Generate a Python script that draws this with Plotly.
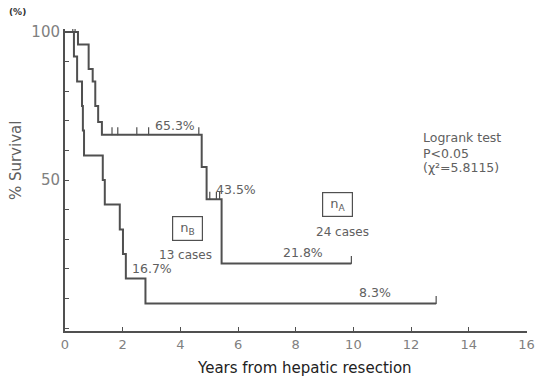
import plotly.graph_objects as go

# Group nA (24 cases) Kaplan-Meier steps
time_a = [0, 0.45, 0.82, 0.96, 1.05, 1.15, 1.28, 4.74, 4.91, 5.43, 9.93]
surv_a = [100, 95.8, 87.5, 83.3, 75.0, 69.6, 65.3, 54.4, 43.5, 21.8, 21.8]
cens_time_a = [0.27, 0.35, 1.63, 1.83, 2.49, 2.90, 4.64, 5.02, 5.25, 5.36, 9.93]
cens_surv_a = [100, 100, 65.3, 65.3, 65.3, 65.3, 65.3, 43.5, 43.5, 43.5, 21.8]

# Group nB (13 cases)
time_b = [0, 0.31, 0.42, 0.59, 0.62, 0.66, 1.31, 1.38, 1.90, 2.01, 2.11, 2.79, 12.87]
surv_b = [100, 91.7, 83.3, 75.0, 66.7, 58.3, 50.0, 41.7, 33.3, 25.0, 16.7, 8.3, 8.3]
cens_time_b = [12.87]
cens_surv_b = [8.3]

x_ticks = [0, 2, 4, 6, 8, 10, 12, 14, 16]
y_ticks = [50, 100]
y_labels = ["50", "100"]
y_minor_step = 10

LINE = "#505050"
TXT = "#606060"
FONT = "DejaVu Sans"

fig = go.Figure()
for t, s in [(time_a, surv_a), (time_b, surv_b)]:
    fig.add_trace(go.Scatter(x=t, y=s, mode="lines", line=dict(shape="hv", color=LINE, width=2),
                             hoverinfo="skip", showlegend=False))
for t, s in [(cens_time_a, cens_surv_a), (cens_time_b, cens_surv_b)]:
    fig.add_trace(go.Scatter(x=t, y=s, mode="markers", marker=dict(size=1, color=LINE),
                             error_y=dict(type="data", symmetric=False, array=[2.5] * len(t),
                                          arrayminus=[0] * len(t), width=0, thickness=1.2, color=LINE),
                             hoverinfo="skip", showlegend=False))

ann = [
    (3.8, 65.3, "65.3%"),
    (5.92, 43.5, "43.5%"),
    (3.0, 17.0, "16.7%"),
    (8.25, 22.2, "21.8%"),
    (10.76, 8.8, "8.3%"),
]
annotations = []
for x, y, txt in ann:
    annotations.append(dict(x=x, y=y, text=txt, showarrow=False, yanchor="bottom", yshift=0,
                            font=dict(family=FONT, size=12.5, color=TXT)))
logrank = [(64.2, "Logrank test"), (59.1, "P&lt;0.05"), (54.1, "(χ²=5.8115)")]
for y, txt in logrank:
    annotations.append(dict(x=12.35, y=y, xanchor="left", yanchor="middle", showarrow=False,
                            text=txt, font=dict(family=FONT, size=12.5, color=TXT)))
annotations += [
    dict(x=4.24, y=33.6, text="&nbsp;n<sub>B</sub>&nbsp;", showarrow=False, bordercolor=LINE,
         borderwidth=1.2, borderpad=3, font=dict(family=FONT, size=13, color=TXT)),
    dict(x=4.19, y=24.7, text="13 cases", showarrow=False, font=dict(family=FONT, size=12, color=TXT)),
    dict(x=9.45, y=41.6, text="&nbsp;n<sub>A</sub>&nbsp;", showarrow=False, bordercolor=LINE,
         borderwidth=1.2, borderpad=3, font=dict(family=FONT, size=13, color=TXT)),
    dict(x=9.62, y=32.4, text="24 cases", showarrow=False, font=dict(family=FONT, size=12, color=TXT)),
    dict(xref="paper", yref="paper", x=-0.102, y=1.056, xanchor="center", yanchor="middle",
         text="<b>(%)</b>", showarrow=False, font=dict(family=FONT, size=9, color="#333333")),
    dict(xref="paper", yref="paper", x=-0.106, y=0.566, xanchor="center", yanchor="middle",
         textangle=-90, text="% Survival", showarrow=False, font=dict(family=FONT, size=15, color=TXT)),
    dict(xref="paper", yref="paper", x=0.519, y=-0.123, xanchor="center", yanchor="middle",
         text="Years from hepatic resection", showarrow=False,
         font=dict(family=FONT, size=15, color="#222222")),
]

fig.update_layout(
    width=537, height=377,
    margin=dict(l=65, r=10, t=29, b=46, autoexpand=False),
    paper_bgcolor="white", plot_bgcolor="white",
    font=dict(family=FONT, size=12, color=TXT),
    annotations=annotations,
    xaxis=dict(range=[0, 16.02], tickvals=x_ticks, ticks="inside", ticklen=4, tickcolor=LINE,
               showline=True, linecolor=LINE, linewidth=2, showgrid=False, zeroline=False,
               automargin=False, tickfont=dict(family=FONT, size=13, color="#808080")),
    yaxis=dict(range=[-1, 101], tickvals=y_ticks, ticktext=y_labels, ticks="inside", ticklen=4,
               tickcolor=LINE, showline=True, linecolor=LINE, linewidth=2, showgrid=False, zeroline=False,
               minor=dict(tick0=0, dtick=y_minor_step, ticks="inside", ticklen=4, tickcolor=LINE,
                          showgrid=False),
               automargin=False, tickfont=dict(family=FONT, size=15, color="#808080")),
)

# remove the default 8px page margin so the figure fills the 537x377 window exactly
fig.write_html("out.html", config={"displayModeBar": False},
               post_script="document.body.style.margin='0';document.body.style.overflow='hidden';")
